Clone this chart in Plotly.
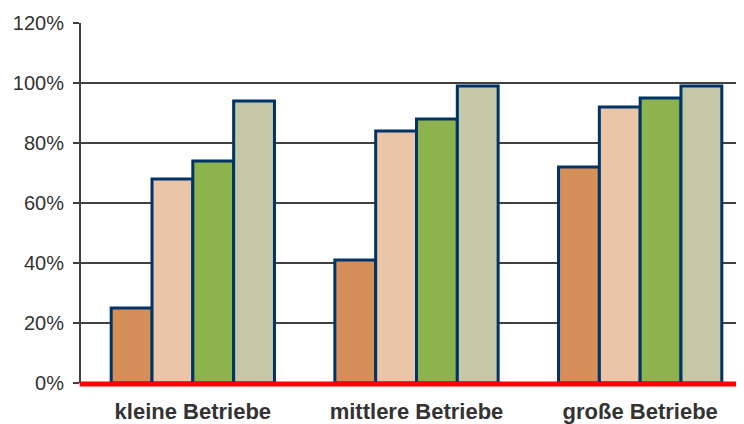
import plotly.graph_objects as go

categories = ["kleine Betriebe", "mittlere Betriebe", "große Betriebe"]
series_names = ["Serie 1", "Serie 2", "Serie 3", "Serie 4"]
serie1 = [25, 41, 72]
serie2 = [68, 84, 92]
serie3 = [74, 88, 95]
serie4 = [94, 99, 99]
tick_vals = [0, 20, 40, 60, 80, 100, 120]
tick_text = ["0%", "20%", "40%", "60%", "80%", "100%", "120%"]

colors = ["#D68F58", "#EAC5A8", "#8DB34E", "#C5C8A7"]
values = [serie1, serie2, serie3, serie4]

fig = go.Figure()
for name, vals, col in zip(series_names, values, colors):
    fig.add_trace(go.Bar(
        x=categories, y=vals, name=name,
        marker=dict(color=col, line=dict(color="#003366", width=3)),
    ))

fig.add_shape(type="line", xref="paper", yref="paper", x0=-0.002, x1=1, y0=-0.003, y1=-0.003,
              line=dict(color="#FF0000", width=5), layer="above")

fig.update_layout(
    width=744, height=424,
    margin=dict(l=73, r=0, t=15, b=49),
    paper_bgcolor="white", plot_bgcolor="white",
    barmode="group", bargap=0.27, bargroupgap=0,
    showlegend=False,
    font=dict(family="Liberation Sans, Arial, sans-serif", color="#333333"),
    xaxis=dict(
        showgrid=False, showline=False, ticks="",
        tickfont=dict(size=22, color="#333333", family="Liberation Sans, Arial, sans-serif", weight="bold"),
        ticklabelstandoff=13,
    ),
    yaxis=dict(
        range=[0, 120], tickvals=tick_vals, ticktext=tick_text,
        showgrid=True, gridcolor="#404040", gridwidth=2,
        showline=True, linecolor="#404040", linewidth=2,
        ticks="outside", ticklen=6, tickcolor="#404040", tickwidth=2,
        tickfont=dict(size=20, color="#333333"),
        zeroline=False, ticklabelstandoff=5,
    ),
)

fig.write_html("out.html")
